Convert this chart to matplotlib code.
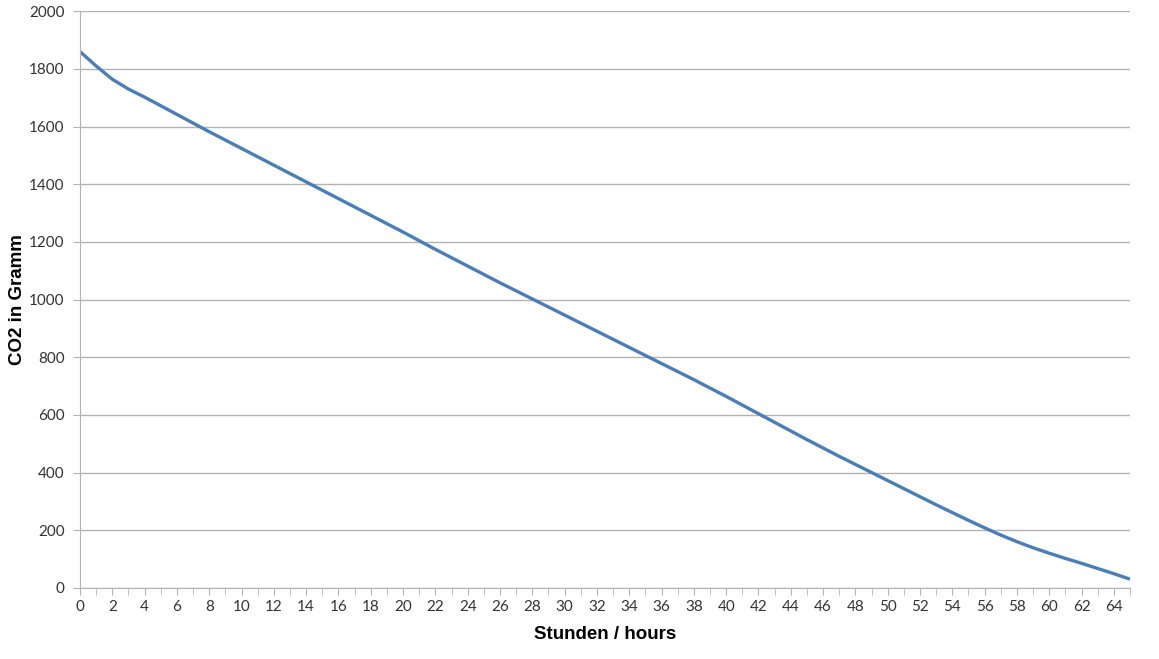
import numpy as np
import matplotlib.pyplot as plt

hours = list(range(66))
co2 = [1860, 1810, 1764, 1730, 1702, 1672, 1642, 1612, 1582, 1553,
       1524, 1495, 1466, 1437, 1408, 1379, 1350, 1321, 1292, 1263,
       1234, 1204, 1174, 1145, 1116, 1087, 1058, 1030, 1002, 974,
       946, 918, 890, 862, 834, 806, 778, 750, 722, 693,
       664, 634, 604, 574, 544, 514, 485, 456, 428, 400,
       372, 344, 316, 288, 261, 234, 208, 183, 160, 139,
       120, 102, 85, 67, 49, 30]
y_ticks = list(range(0, 2001, 200))
x_labels = [str(h) for h in range(0, 65, 2)]

grid_col = '#b3b3b3'
fig = plt.figure(figsize=(11.59, 6.59), dpi=100)
ax = fig.add_axes([0.069, 0.108, 0.906, 0.875])

ax.plot(hours, co2, color='#4a7ebb', linewidth=2.4, solid_capstyle='butt')

ax.set_xlim(0, 65)
ax.set_ylim(0, 2000)
ax.set_yticks(y_ticks)
ax.set_yticklabels([str(v) for v in y_ticks], fontsize=11, family='Lato', color='#333333')
ax.set_xticks(range(0, 65, 2))
ax.set_xticklabels(x_labels, fontsize=11, family='Lato', color='#333333')
ax.set_xticks(range(0, 66), minor=True)
ax.tick_params(axis='x', which='both', length=5, color=grid_col, direction='out')
ax.tick_params(axis='y', length=5, color=grid_col, direction='out', pad=6)

ax.grid(axis='y', color=grid_col, linewidth=1)
ax.set_axisbelow(True)
for s in ['top', 'right']:
    ax.spines[s].set_visible(False)
for s in ['left', 'bottom']:
    ax.spines[s].set_color(grid_col)

ax.set_xlabel('Stunden / hours', fontsize=13.5, fontweight='bold', family='Liberation Sans')
ax.set_ylabel('CO2 in Gramm', fontsize=13.5, fontweight='bold', family='Liberation Sans')
ax.xaxis.set_label_coords(0.5, -0.066)
ax.yaxis.set_label_coords(-0.051, 0.5)

fig.savefig('out.png', dpi=100)
